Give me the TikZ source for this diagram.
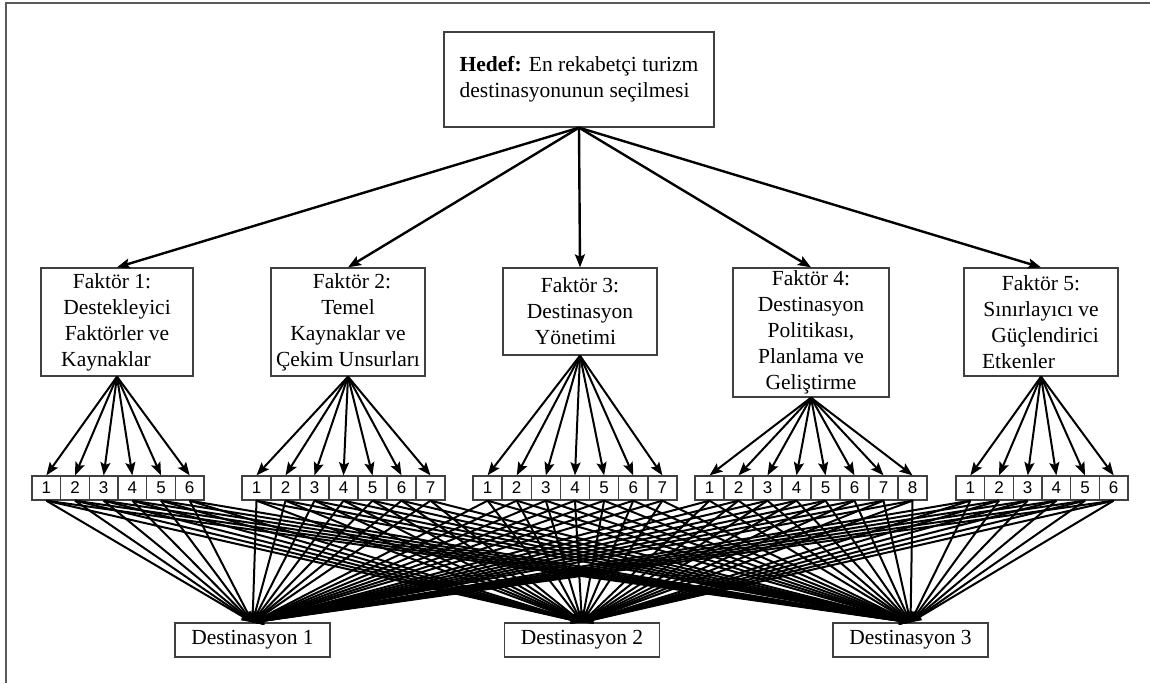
\documentclass[tikz,border=0pt]{standalone}
\usepackage{fontspec}
\setmainfont{Liberation Serif}
\newfontfamily\digitfont{Liberation Sans}
\usetikzlibrary{arrows.meta,calc}
\definecolor{boxgray}{RGB}{64,64,64}
\definecolor{framegray}{RGB}{90,90,90}
\begin{document}
\begin{tikzpicture}[x=1pt,y=-1pt,
  box/.style={draw=boxgray,line width=1.3pt,inner sep=0pt,align=center,
    font=\fontsize{21.5}{26}\selectfont},
  cell/.style={draw=boxgray,line width=1.3pt,inner sep=0pt,minimum height=24pt,
    font=\digitfont\fontsize{17}{20}\selectfont},
  tip/.style={-{Stealth[length=13pt,width=10pt,inset=2.5pt]}},
  toparrow/.style={tip,line width=2.4pt},
  fan/.style={tip,line width=2pt},
  link/.style={-{Stealth[length=11pt,width=8pt,inset=2pt]},line width=2pt}
]
\useasboundingbox (0,0) rectangle (1150,683);

% partial frame: top and left edges only
\draw[framegray,line width=1.6pt] (1150,3) -- (6,3) -- (6,683);

% goal
\node[box,align=left,minimum width=270pt,minimum height=95pt] (goal) at (579,79.5)
  {\textbf{Hedef:} En rekabetçi turizm\\destinasyonunun seçilmesi};

% factors
\node[box,minimum width=152pt,minimum height=108pt] (f1) at (117,322)
  {Faktör 1:\hspace*{10pt}\\Destekleyici\\Faktörler ve\hspace*{6pt}\\Kaynaklar\hspace*{22pt}};
\node[box,minimum width=154pt,minimum height=108pt] (f2) at (348,322)
  {\hspace*{8pt}Faktör 2:\\Temel\\Kaynaklar ve\\Çekim Unsurları};
\node[box,minimum width=154pt,minimum height=87pt] (f3) at (580,311.5)
  {Faktör 3:\\Destinasyon\\Yönetimi\hspace*{9pt}};
\node[box,minimum width=156pt,minimum height=129pt] (f4) at (811,332.5)
  {Faktör 4:\\Destinasyon\\Politikası,\\Planlama ve\\Geliştirme};
\node[box,minimum width=154pt,minimum height=108pt] (f5) at (1041,322)
  {Faktör 5:\\Sınırlayıcı ve\\\hspace*{8pt}Güçlendirici\\Etkenler\hspace*{45pt}};

% destinations
\node[box,minimum width=155pt,minimum height=34pt] (d1) at (252.5,640) {Destinasyon 1};
\node[box,minimum width=155pt,minimum height=34pt] (d2) at (582,640) {Destinasyon 2};
\node[box,minimum width=155pt,minimum height=34pt] (d3) at (910.5,640) {Destinasyon 3};

% numbered sub-criteria cells
\foreach \g/\x/\n/\w in {1/32/6/28.67, 2/242/7/29, 3/473/7/29.14, 4/695/8/29, 5/956/6/28.67} {
  \foreach \i in {1,...,\n} {
    \node[cell,minimum width=\w pt] (g\g c\i) at ({\x+(\i-0.5)*\w},488) {\i};
  }
}

% goal to factors
\foreach \f in {1,...,5} \draw[toparrow] (goal.south) -- (f\f.north);

% factors to their cells, cells to every destination
\foreach \g/\n in {1/6,2/7,3/7,4/8,5/6} {
  \foreach \i in {1,...,\n} {
    \draw[fan] (f\g.south) -- (g\g c\i.north);
    \foreach \d in {1,2,3} \draw[link] (g\g c\i.south) -- (d\d.north);
  }
}
\end{tikzpicture}
\end{document}
